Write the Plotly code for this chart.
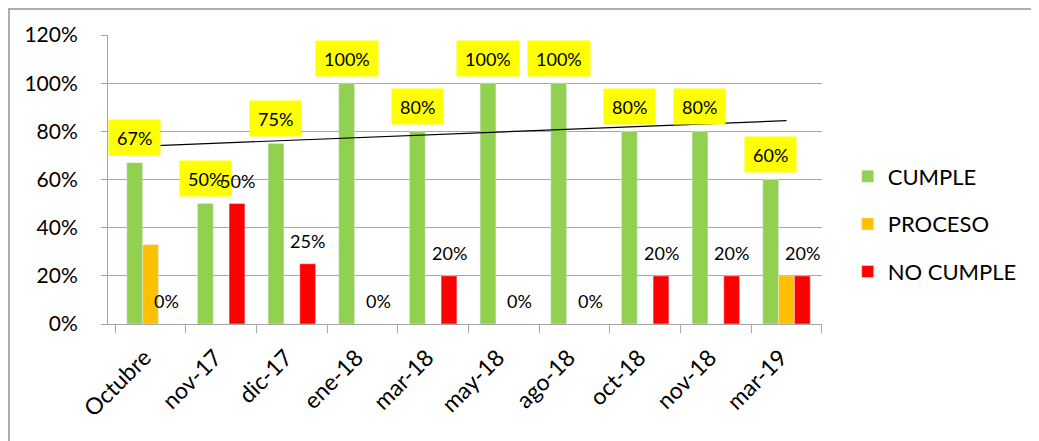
import numpy as np
import plotly.graph_objects as go

categories = ["Octubre", "nov-17", "dic-17", "ene-18", "mar-18", "may-18",
              "ago-18", "oct-18", "nov-18", "mar-19"]
cumple = [67, 50, 75, 100, 80, 100, 100, 80, 80, 60]
proceso = [33, 0, 0, 0, 0, 0, 0, 0, 0, 20]
no_cumple = [0, 50, 25, 0, 20, 0, 0, 20, 20, 20]

GREEN = "#92D050"
ORANGE = "#FFC000"
RED = "#FF0000"
GRID = "#A6A6A6"
FONT = "Lato, Calibri, 'Liberation Sans', sans-serif"

fig = go.Figure()
fig.add_bar(x=categories, y=cumple, name="CUMPLE", marker_color=GREEN,
            legendgroup="a")
fig.add_bar(x=categories, y=proceso, name="PROCESO", marker_color=ORANGE,
            legendgroup="b")
fig.add_bar(x=categories, y=no_cumple, name="NO CUMPLE", marker_color=RED,
            legendgroup="c")

# linear trendline of CUMPLE
xi = np.arange(1, len(categories) + 1)
slope, intercept = np.polyfit(xi, cumple, 1)
trend = slope * xi + intercept
fig.add_scatter(x=categories, y=trend, mode="lines",
                line=dict(color="black", width=1.2), showlegend=False,
                hoverinfo="skip")

annotations = []
for c, v in zip(categories, cumple):
    annotations.append(dict(x=c, y=v, xref="x", yref="y", text=f"{v}%",
                            showarrow=False, xshift=-16, yshift=25,
                            bgcolor="#FFFF00", borderpad=8, height=19,
                            font=dict(family=FONT, size=18, color="black")))
for c, v in zip(categories, no_cumple):
    annotations.append(dict(x=c, y=v, xref="x", yref="y", text=f"{v}%",
                            showarrow=False, xshift=16, yshift=23,
                            font=dict(family=FONT, size=18, color="black")))

L, T, W, H = 100, 27, 714, 289
shapes = [
    dict(type="line", xref="paper", yref="paper",
         x0=(0 - L) / W, x1=(1045 - L) / W,
         y0=(T + H - 1) / H, y1=(T + H - 1) / H,
         line=dict(color="#ADADAD", width=2)),
    dict(type="line", xref="paper", yref="paper",
         x0=(1 - L) / W, x1=(1 - L) / W,
         y0=(T + H) / H, y1=(T + H - 450) / H,
         line=dict(color="#ADADAD", width=2)),
]

fig.update_layout(
    width=1039, height=441,
    margin=dict(l=L, r=1039 - L - W, t=T, b=441 - T - H, autoexpand=False),
    paper_bgcolor="white", plot_bgcolor="white",
    barmode="group", bargap=0.328, bargroupgap=0,
    font=dict(family=FONT, size=20, color="black"),
    showlegend=True,
    legend=dict(x=1.036, y=0.346, xanchor="left", yanchor="middle",
                font=dict(family=FONT, size=22), tracegroupgap=16,
                itemwidth=30),
    annotations=annotations, shapes=shapes,
)
fig.update_xaxes(tickangle=-45, showline=True, linecolor=GRID, linewidth=1,
                 ticks="outside", tickson="boundaries", ticklen=8,
                 tickcolor=GRID, showgrid=False, automargin=False,
                 ticklabelstandoff=10, ticklabelshift=-6,
                 tickfont=dict(family=FONT, size=23, color="black"))
fig.update_yaxes(range=[0, 120], dtick=20, ticksuffix="%", showgrid=True,
                 gridcolor=GRID, gridwidth=1, showline=True, linecolor=GRID,
                 ticks="outside", ticklen=6, tickcolor=GRID, zeroline=False,
                 ticklabelstandoff=19, automargin=False,
                 tickfont=dict(family=FONT, size=21, color="black"))

fig.write_html("out.html")
